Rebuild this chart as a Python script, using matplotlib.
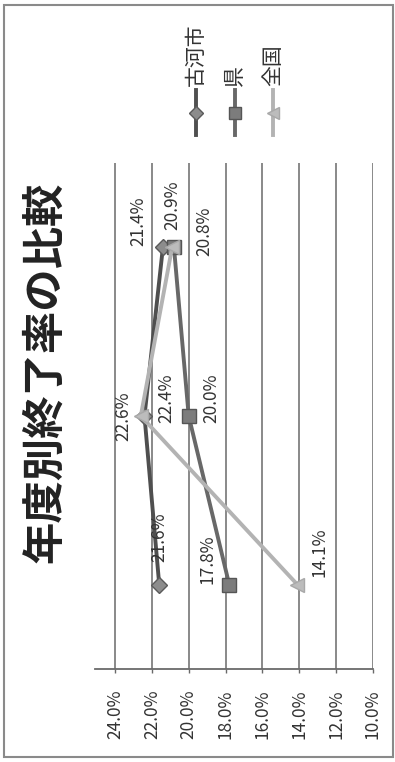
import matplotlib.pyplot as plt
from matplotlib.lines import Line2D
from matplotlib.patches import Rectangle

plt.rcParams['font.family'] = ['Noto Sans CJK JP', 'DejaVu Sans']

# -----------------------------
# Data
# -----------------------------
title = "年度別終了率の比較"
periods = [1, 2, 3]                      # three years, drawn bottom to top
series_names = ["古河市", "県", "全国"]
koga = [21.6, 22.4, 21.4]
ken = [17.8, 20.0, 20.8]
zenkoku = [14.1, 22.6, 20.9]
value_ticks = [24, 22, 20, 18, 16, 14, 12, 10]

# -----------------------------
# Style (chart is drawn turned 90 degrees)
# -----------------------------
W, H = 395, 762
styles = [
    dict(color="#4f4f4f", marker="D", mfc="#8c8c8c", mec="#5a5a5a", ms=8),
    dict(color="#686868", marker="s", mfc="#7c7c7c", mec="#555555", ms=10),
    dict(color="#b3b3b3", marker="<", mfc="#bcbcbc", mec="#a8a8a8", ms=10),
]
# label offsets in pixels (dx right, dy up) for each point
label_offsets = [
    [(0, 47), (22, 18), (-25, 26)],
    [(-22, 25), (23, 18), (30, 16)],
    [(22, 32), (-17, 0), (0, 42)],
]

fig = plt.figure(figsize=(W / 100, H / 100), dpi=100)
fig.add_artist(Rectangle((4 / W, 5 / H), 389 / W, 752 / H, transform=fig.transFigure,
                         fill=False, edgecolor="#8a8a8a", lw=1.5))

ax = fig.add_axes([95 / W, 93 / H, 278 / W, 506 / H])
ax.set_xlim(25.085, 10)
ax.set_ylim(0.5, 3.5)

for v in value_ticks:
    ax.axvline(v, color="#6a6a6a", lw=1.1, zorder=0)

for name, vals, st, offs in zip(series_names, [koga, ken, zenkoku], styles, label_offsets):
    ax.plot(vals, periods, color=st["color"], lw=2.8, marker=st["marker"],
            markerfacecolor=st["mfc"], markeredgecolor=st["mec"], markersize=st["ms"],
            label=name)
    for v, p, (dx, dy) in zip(vals, periods, offs):
        ax.annotate(f"{v:.1f}%", (v, p), xytext=(dx, dy), textcoords="offset pixels",
                    rotation=90, ha="center", va="center", fontsize=12.5, color="#333333")

ax.set_xticks(value_ticks)
ax.set_xticklabels([f"{v:.1f}%" for v in value_ticks], rotation=90, fontsize=12.5,
                   color="#333333")
ax.tick_params(axis="x", length=3, width=1, color="#6a6a6a", pad=12)
ax.set_yticks([])
for side in ["left", "right", "top"]:
    ax.spines[side].set_visible(False)
ax.spines["bottom"].set_color("#6a6a6a")
ax.spines["bottom"].set_linewidth(1.3)

# title
fig.text(45 / W, 1 - 372 / H, title, rotation=90, ha="center", va="center",
         fontsize=30.5, fontweight="bold", color="#222222")

# legend, turned as well
legend_x = [196, 235, 273]
for name, st, lx in zip(series_names, styles, legend_x):
    fig.add_artist(Line2D([lx / W, lx / W], [1 - 135 / H, 1 - 90 / H],
                          transform=fig.transFigure, color=st["color"], lw=2.8))
    fig.add_artist(Line2D([lx / W], [1 - 113 / H], transform=fig.transFigure,
                          marker=st["marker"], markerfacecolor=st["mfc"],
                          markeredgecolor=st["mec"], markersize=st["ms"] * 0.9, lw=0))
    fig.text(lx / W, 1 - 86 / H, name, rotation=90, ha="center", va="bottom",
             fontsize=15, color="#333333")

plt.savefig("out.png", dpi=100)
